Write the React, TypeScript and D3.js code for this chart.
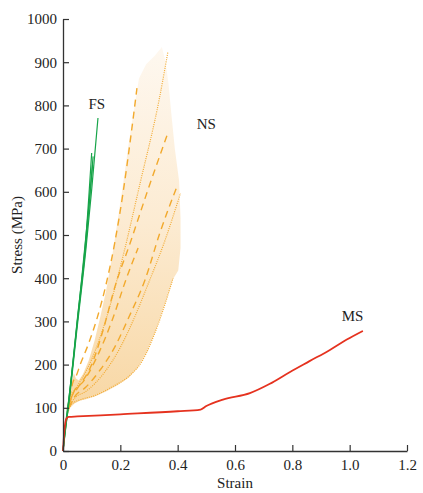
import React, { useEffect, useRef } from 'react';
import * as d3 from 'd3';

type Pt = [number, number];

// tick values
const xTicks = [0, 0.2, 0.4, 0.6, 0.8, 1.0, 1.2];
const xTickLabels = ['0', '0.2', '0.4', '0.6', '0.8', '1.0', '1.2'];
const yTicks = [0, 100, 200, 300, 400, 500, 600, 700, 800, 900, 1000];

// MS (red)
const msCurve: Pt[] = [
  [0, 0], [0.004, 40], [0.008, 65], [0.013, 76], [0.02, 79], [0.05, 80], [0.2, 85],
  [0.4, 92], [0.48, 96], [0.5, 104], [0.558, 119], [0.652, 134], [0.72, 155],
  [0.792, 183], [0.86, 208], [0.931, 234], [0.99, 258], [1.046, 278],
];

// FS (green)
const fsCurves: Pt[][] = [
  [[0, 0], [0.006, 45], [0.02, 118], [0.05, 305], [0.08, 495], [0.1, 690]],
  [[0, 0], [0.008, 45], [0.02, 112], [0.05, 298], [0.08, 480], [0.105, 682]],
  [[0, 0], [0.007, 42], [0.02, 108], [0.05, 290], [0.08, 468], [0.1, 605], [0.122, 771]],
  [[0, 0], [0.01, 62], [0.03, 175], [0.06, 365], [0.09, 565], [0.103, 662]],
];

// NS (orange) envelope
const nsEnvelope: Pt[] = [
  [0.012, 80], [0.02, 125], [0.03, 158], [0.038, 180], [0.045, 168], [0.055, 163],
  [0.07, 178], [0.09, 210], [0.11, 255], [0.13, 310], [0.15, 370], [0.17, 445],
  [0.19, 530], [0.21, 620], [0.23, 715], [0.25, 800], [0.265, 862], [0.29, 895],
  [0.32, 915], [0.345, 935], [0.358, 900], [0.368, 850], [0.378, 780], [0.39, 700],
  [0.405, 625], [0.41, 540], [0.41, 470], [0.402, 418], [0.384, 398], [0.35, 330],
  [0.32, 272], [0.29, 226], [0.26, 192], [0.23, 170], [0.19, 152], [0.15, 138],
  [0.11, 126], [0.08, 120], [0.06, 117], [0.04, 110], [0.025, 100], [0.015, 80],
];

const nsDashed: Pt[][] = [
  [[0.015, 95], [0.025, 130], [0.035, 160], [0.045, 172], [0.06, 200], [0.09, 250], [0.12, 310], [0.15, 385], [0.18, 480], [0.21, 600], [0.235, 720], [0.258, 840]],
  [[0.015, 90], [0.03, 125], [0.05, 145], [0.1, 200], [0.14, 280], [0.181, 380], [0.234, 481], [0.296, 604], [0.363, 731]],
  [[0.02, 105], [0.04, 140], [0.07, 160], [0.12, 220], [0.17, 300], [0.223, 403], [0.262, 470]],
  [[0.02, 100], [0.04, 125], [0.08, 148], [0.13, 188], [0.18, 240], [0.23, 310], [0.286, 396], [0.338, 505], [0.398, 613]],
];

const nsDotted: Pt[][] = [
  [[0.015, 95], [0.03, 128], [0.05, 150], [0.1, 212], [0.15, 305], [0.206, 442], [0.269, 620], [0.335, 812], [0.366, 924]],
  [[0.02, 100], [0.04, 122], [0.08, 138], [0.14, 178], [0.2, 240], [0.25, 310], [0.293, 380], [0.356, 488], [0.41, 597]],
  [[0.015, 88], [0.03, 108], [0.066, 120], [0.11, 128], [0.17, 148], [0.23, 173], [0.276, 208], [0.33, 290], [0.384, 400]],
];

const labels: { text: string; x: number; y: number }[] = [
  { text: 'FS', x: 0.118, y: 792 },
  { text: 'NS', x: 0.5, y: 745 },
  { text: 'MS', x: 1.01, y: 300 },
];

const W = 423;
const H = 493;
const margin = { top: 19, right: 16, bottom: 42, left: 63 };
const font = '"Liberation Serif", "DejaVu Serif", serif';

const App = () => {
  const ref = useRef<SVGSVGElement>(null);

  useEffect(() => {
    const svg = d3.select(ref.current);
    svg.selectAll('*').remove();

    const x = d3.scaleLinear().domain([0, 1.2]).range([margin.left, W - margin.right]);
    const y = d3.scaleLinear().domain([0, 1000]).range([H - margin.bottom, margin.top]);

    const defs = svg.append('defs');
    const grad = defs.append('linearGradient')
      .attr('id', 'nsFill')
      .attr('gradientUnits', 'userSpaceOnUse')
      .attr('x1', 0).attr('x2', 0)
      .attr('y1', y(120)).attr('y2', y(940));
    grad.append('stop').attr('offset', '0%').attr('stop-color', '#f8d8a6');
    grad.append('stop').attr('offset', '50%').attr('stop-color', '#fcebd2');
    grad.append('stop').attr('offset', '100%').attr('stop-color', '#fef8f0');

    const line = d3.line<Pt>().x(d => x(d[0])).y(d => y(d[1])).curve(d3.curveMonotoneX);
    const poly = d3.line<Pt>().x(d => x(d[0])).y(d => y(d[1])).curve(d3.curveLinearClosed);

    // NS envelope
    svg.append('path')
      .attr('d', poly(nsEnvelope))
      .attr('fill', 'url(#nsFill)')
      .attr('stroke', 'none');

    nsDotted.forEach(c => {
      svg.append('path')
        .attr('d', line(c))
        .attr('fill', 'none')
        .attr('stroke', '#f2ab34')
        .attr('stroke-width', 1.2)
        .attr('stroke-dasharray', '1,1.2');
    });

    nsDashed.forEach(c => {
      svg.append('path')
        .attr('d', line(c))
        .attr('fill', 'none')
        .attr('stroke', '#f2a92c')
        .attr('stroke-width', 1.4)
        .attr('stroke-dasharray', '7,5');
    });

    // FS
    fsCurves.forEach(c => {
      svg.append('path')
        .attr('d', line(c))
        .attr('fill', 'none')
        .attr('stroke', '#17a449')
        .attr('stroke-width', 1.2);
    });

    // MS
    svg.append('path')
      .attr('d', line(msCurve))
      .attr('fill', 'none')
      .attr('stroke', '#e5321f')
      .attr('stroke-width', 1.8);

    // axes
    const axisColor = '#333';
    const xAxis = svg.append('g')
      .attr('transform', `translate(0,${y(0)})`)
      .call(d3.axisBottom(x).tickValues(xTicks).tickSize(-6).tickSizeOuter(0)
        .tickFormat((d, i) => xTickLabels[i]));
    xAxis.select('.domain').attr('stroke', axisColor).attr('stroke-width', 1.3);
    xAxis.selectAll('.tick line').attr('stroke', axisColor).attr('stroke-width', 1.2);
    xAxis.selectAll('.tick text')
      .attr('y', 8)
      .attr('dy', '0.71em')
      .attr('fill', '#222')
      .style('font-family', font)
      .style('font-size', '15px');

    const yAxis = svg.append('g')
      .attr('transform', `translate(${x(0)},0)`)
      .call(d3.axisLeft(y).tickValues(yTicks).tickSize(-6).tickSizeOuter(0)
        .tickFormat(d3.format('d')));
    yAxis.select('.domain').attr('stroke', axisColor).attr('stroke-width', 1.3);
    yAxis.selectAll('.tick line').attr('stroke', axisColor).attr('stroke-width', 1.2);
    yAxis.selectAll('.tick text')
      .attr('x', -6)
      .attr('fill', '#222')
      .style('font-family', font)
      .style('font-size', '15px');

    svg.append('text')
      .attr('transform', `translate(22,${(y(0) + y(1000)) / 2}) rotate(-90)`)
      .attr('text-anchor', 'middle')
      .attr('fill', '#222')
      .style('font-family', font)
      .style('font-size', '15px')
      .text('Stress (MPa)');

    svg.append('text')
      .attr('x', (x(0) + x(1.2)) / 2)
      .attr('y', 488)
      .attr('text-anchor', 'middle')
      .attr('fill', '#222')
      .style('font-family', font)
      .style('font-size', '15px')
      .text('Strain');

    labels.forEach(l => {
      svg.append('text')
        .attr('x', x(l.x))
        .attr('y', y(l.y))
        .attr('text-anchor', 'middle')
        .attr('fill', '#222')
        .style('font-family', font)
        .style('font-size', '15px')
        .text(l.text);
    });
  }, []);

  return (
    <svg ref={ref} width={W} height={H} style={{ position: 'absolute', left: 0, top: 0, background: '#fff' }} />
  );
};

export default App;
